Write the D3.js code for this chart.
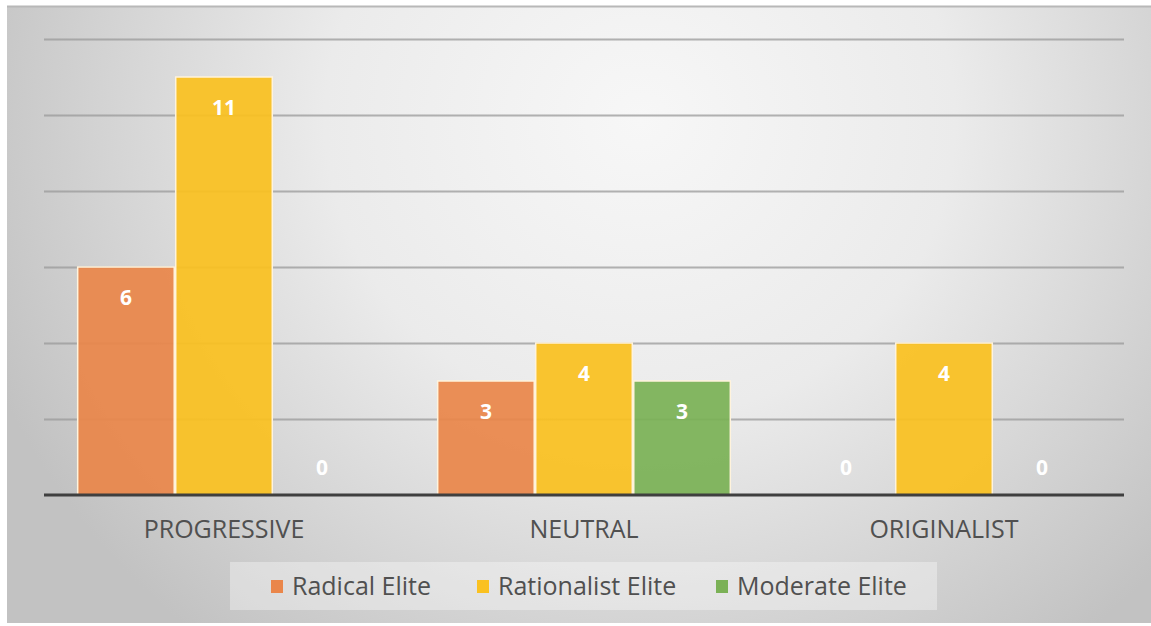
<!DOCTYPE html>
<html>
<head>
<meta charset="utf-8">
<script src="https://cdn.jsdelivr.net/npm/d3@7"></script>
<style>
  html, body { margin: 0; padding: 0; background: #ffffff; }
  svg { display: block; }
</style>
</head>
<body>
<svg id="chart" width="1151" height="626"></svg>
<script>
// Stance categories along the x axis
const categories = ["PROGRESSIVE", "NEUTRAL", "ORIGINALIST"];
// Elite groups (one bar per group in every category)
const seriesNames = ["Radical Elite", "Rationalist Elite", "Moderate Elite"];
const radicalElite = [6, 3, 0];
const rationalistElite = [11, 4, 4];
const moderateElite = [0, 3, 0];
const seriesValues = [radicalElite, rationalistElite, moderateElite];
const seriesColors = ["#EA864A", "#FAC120", "#7BB156"];
const gridTicks = [0, 2, 4, 6, 8, 10, 12];

const svg = d3.select("#chart");
const W = 1151, H = 626;
const FONT = "'Open Sans', 'Noto Sans', sans-serif";

// Background panel with soft radial shading
const defs = svg.append("defs");
const rg = defs.append("radialGradient")
  .attr("id", "bg")
  .attr("gradientUnits", "userSpaceOnUse")
  .attr("cx", 640).attr("cy", 120).attr("r", 700)
  .attr("gradientTransform", "translate(640,120) scale(1,0.95) translate(-640,-120)");
rg.append("stop").attr("offset", "0%").attr("stop-color", "#f7f7f7");
rg.append("stop").attr("offset", "45%").attr("stop-color", "#ebebeb");
rg.append("stop").attr("offset", "100%").attr("stop-color", "#c2c2c2");

const panel = { x: 7, y: 6, w: W - 7, h: 617 };
svg.append("rect")
  .attr("x", panel.x).attr("y", panel.y)
  .attr("width", panel.w).attr("height", panel.h)
  .attr("fill", "url(#bg)");
svg.append("line")
  .attr("x1", panel.x).attr("x2", panel.x + panel.w)
  .attr("y1", panel.y + 0.5).attr("y2", panel.y + 0.5)
  .attr("stroke", "#b8b8b8").attr("stroke-width", 2);

// Plot area
const plot = { left: 44, right: 1124, top: 39, bottom: 495 };

const x0 = d3.scaleBand()
  .domain(categories)
  .range([plot.left, plot.right])
  .paddingInner(0.183)
  .paddingOuter(0.0915);

const x1 = d3.scaleBand()
  .domain(seriesNames)
  .range([0, x0.bandwidth()])
  .padding(0);

const y = d3.scaleLinear()
  .domain([0, 12])
  .range([plot.bottom, plot.top]);

// Horizontal gridlines
const yAxis = d3.axisLeft(y)
  .tickValues(gridTicks.filter(t => t > 0))
  .tickSize(-(plot.right - plot.left))
  .tickFormat("");
const gGrid = svg.append("g")
  .attr("transform", `translate(${plot.left},0)`)
  .call(yAxis);
gGrid.select(".domain").remove();
gGrid.selectAll(".tick line")
  .attr("stroke", "#9a9a9a")
  .attr("stroke-opacity", 0.75)
  .attr("stroke-width", 2);

// Bars
const rows = categories.map((c, i) => ({
  category: c,
  values: seriesNames.map((s, j) => ({ series: s, value: seriesValues[j][i], color: seriesColors[j] }))
}));

const groups = svg.append("g").selectAll("g")
  .data(rows)
  .join("g")
  .attr("transform", d => `translate(${x0(d.category)},0)`);

groups.selectAll("rect")
  .data(d => d.values)
  .join("rect")
  .attr("x", d => x1(d.series) + 0.75)
  .attr("width", x1.bandwidth() - 1.5)
  .attr("y", d => y(d.value))
  .attr("height", d => y(0) - y(d.value))
  .attr("fill", d => d.color)
  .attr("fill-opacity", d => d.value > 0 ? 0.93 : 0)
  .attr("stroke", "#fff3dc")
  .attr("stroke-width", d => d.value > 0 ? 1.5 : 0);

// Value labels just inside the bar tops (zero values sit above the baseline)
groups.selectAll("text")
  .data(d => d.values)
  .join("text")
  .attr("x", d => x1(d.series) + x1.bandwidth() / 2)
  .attr("y", d => d.value > 0 ? y(d.value) + 38 : y(0) - 20)
  .attr("text-anchor", "middle")
  .attr("font-family", FONT)
  .attr("font-weight", 700)
  .attr("font-size", 21)
  .attr("fill", "#ffffff")
  .text(d => d.value);

// Category axis
const xAxis = d3.axisBottom(x0).tickSize(0);
const gX = svg.append("g")
  .attr("transform", `translate(0,${plot.bottom})`)
  .call(xAxis);
gX.select(".domain").remove();
gX.selectAll(".tick text")
  .attr("y", 43)
  .attr("dy", 0)
  .attr("font-family", FONT)
  .attr("font-size", 25)
  .attr("fill", "#505050");
svg.append("line")
  .attr("x1", plot.left).attr("x2", plot.right)
  .attr("y1", plot.bottom).attr("y2", plot.bottom)
  .attr("stroke", "#3f3f3f").attr("stroke-width", 3);

// Legend
const legend = svg.append("g");
legend.append("rect")
  .attr("x", 230).attr("y", 562)
  .attr("width", 707).attr("height", 48)
  .attr("fill", "#ffffff").attr("fill-opacity", 0.35);

const legendX = [271, 477, 716];
const items = legend.selectAll("g.item")
  .data(seriesNames)
  .join("g")
  .attr("class", "item")
  .attr("transform", (d, i) => `translate(${legendX[i]},586)`);
items.append("rect")
  .attr("x", 0).attr("y", -6)
  .attr("width", 12).attr("height", 13)
  .attr("fill", (d, i) => seriesColors[i]);
items.append("text")
  .attr("x", 21).attr("y", 9)
  .attr("font-family", FONT)
  .attr("font-size", 25)
  .attr("fill", "#505050")
  .text(d => d);
</script>
</body>
</html>
